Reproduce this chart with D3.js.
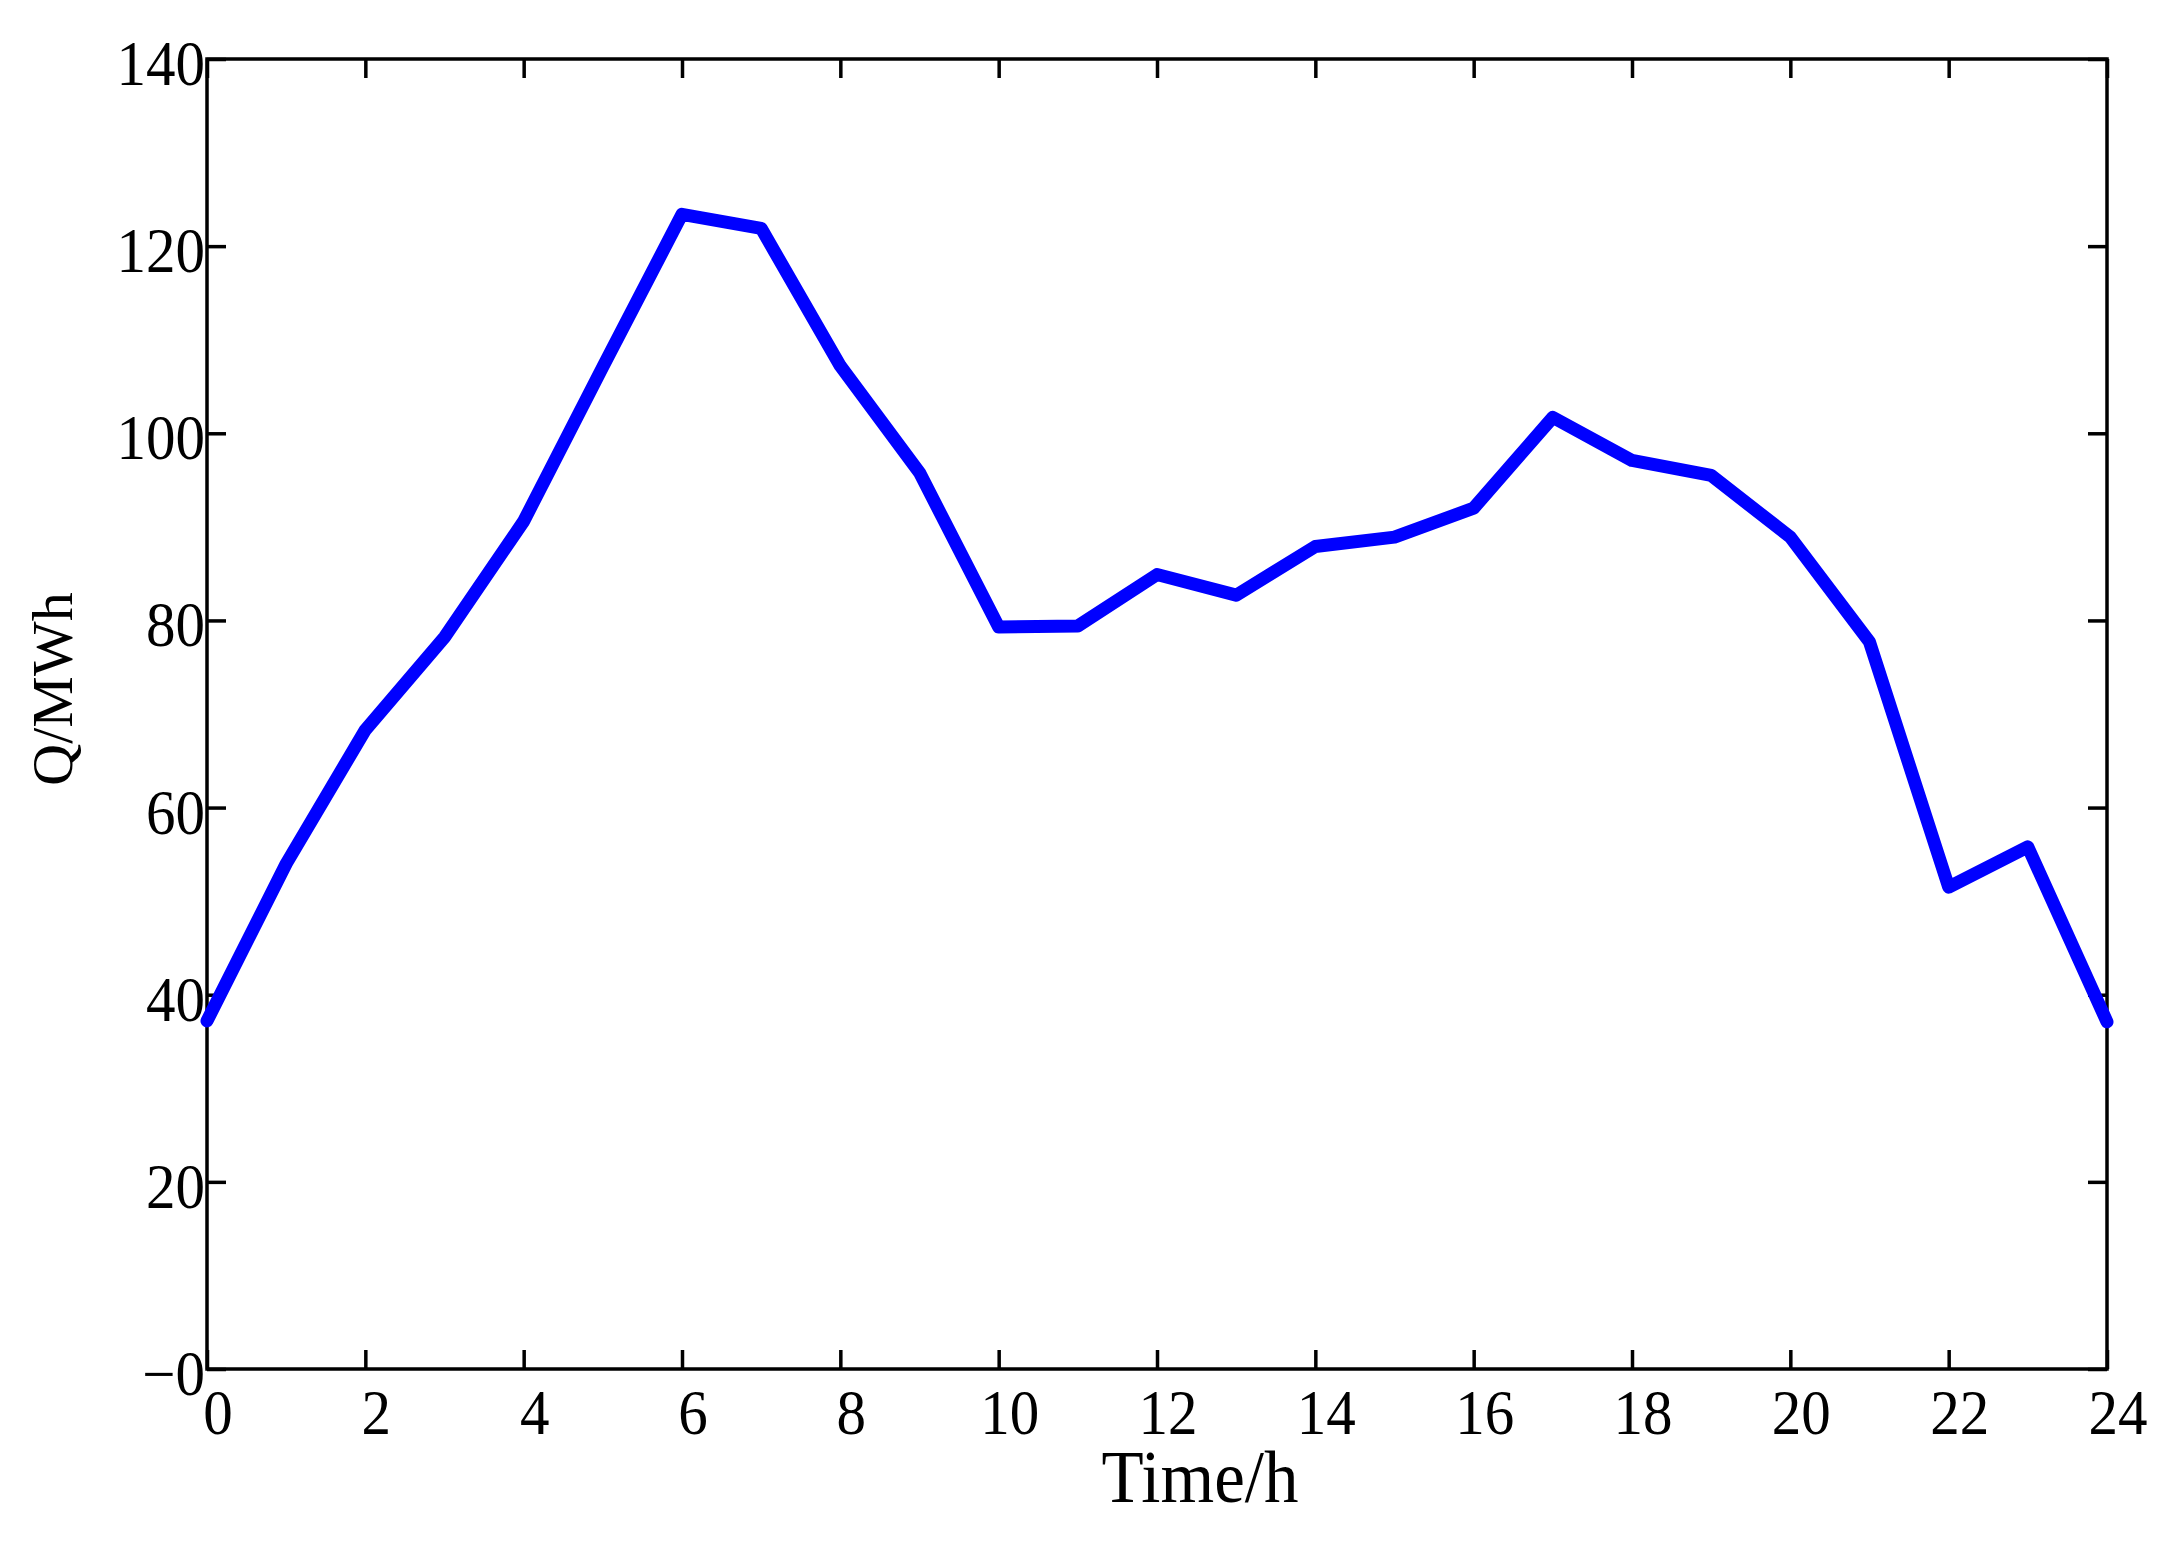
<!DOCTYPE html>
<html>
<head>
<meta charset="utf-8">
<script src="https://cdn.jsdelivr.net/npm/d3@7"></script>
<style>
  html, body { margin: 0; padding: 0; background: #fff; }
  svg { display: block; }
  text { font-family: "Liberation Serif", "Times New Roman", serif; fill: #000; }
</style>
</head>
<body>
<script>
// ---- data ----
const hours = [0,1,2,3,4,5,6,7,8,9,10,11,12,13,14,15,16,17,18,19,20,21,22,23,24];
const load  = [37.2,54.0,68.3,78.2,90.6,107.1,123.4,121.9,107.2,95.8,79.3,79.4,84.9,82.7,87.9,88.9,92.0,101.7,97.1,95.5,88.9,77.7,51.5,55.8,37.1];
const xTicks = [0,2,4,6,8,10,12,14,16,18,20,22,24];
const yTicks = [0,20,40,60,80,100,120,140];
const yTickLabels = ["\u22120","20","40","60","80","100","120","140"];
const xLabel = "Time/h";
const yLabel = "Q/MWh";

(function () {
const W = 2182, H = 1546;
const pL = 207, pR = 2107, pT = 59, pB = 1369;
const tick = 19;
const sy = 1.06;

const svg = d3.select("body").append("svg").attr("width", W).attr("height", H);

const x = d3.scaleLinear().domain([0, 24]).range([pL, pR]);
const y = d3.scaleLinear().domain([0, 140]).range([pB, pT]);

function styleAxis(g) {
  g.select(".domain").remove();
  g.selectAll(".tick line").attr("stroke", "#000").attr("stroke-width", 3.5);
  g.selectAll(".tick text").remove();
}
svg.append("g").attr("transform", `translate(0,${pB})`)
  .call(d3.axisBottom(x).tickValues(xTicks).tickSize(-tick).tickFormat("")).call(styleAxis);
svg.append("g").attr("transform", `translate(0,${pT})`)
  .call(d3.axisTop(x).tickValues(xTicks).tickSize(-tick).tickFormat("")).call(styleAxis);
svg.append("g").attr("transform", `translate(${pL},0)`)
  .call(d3.axisLeft(y).tickValues(yTicks).tickSize(-tick).tickFormat("")).call(styleAxis);
svg.append("g").attr("transform", `translate(${pR},0)`)
  .call(d3.axisRight(y).tickValues(yTicks).tickSize(-tick).tickFormat("")).call(styleAxis);

svg.append("rect")
  .attr("x", pL).attr("y", pT)
  .attr("width", pR - pL).attr("height", pB - pT)
  .attr("fill", "none").attr("stroke", "#000").attr("stroke-width", 3.5);

svg.append("g").selectAll("text").data(xTicks).join("text")
  .attr("transform", d => `translate(${x(d) + 11},${pB + 65}) scale(1,${sy})`)
  .attr("text-anchor", "middle")
  .style("font-size", "59px")
  .text(d => d);

svg.append("g").selectAll("text").data(yTicks).join("text")
  .attr("transform", d => `translate(${pL - 2},${y(d) + 26}) scale(1,${sy})`)
  .attr("text-anchor", "end")
  .style("font-size", "59px")
  .text((d, i) => yTickLabels[i]);

svg.append("text")
  .attr("transform", `translate(1200,1502) scale(1,${sy})`)
  .attr("text-anchor", "middle")
  .style("font-size", "69px")
  .text(xLabel);

svg.append("text")
  .attr("transform", `translate(72,689) rotate(-90)`)
  .attr("text-anchor", "middle")
  .style("font-size", "58px")
  .text(yLabel);

const line = d3.line().x((d, i) => x(hours[i])).y(d => y(d));
svg.append("path")
  .datum(load)
  .attr("d", line)
  .attr("fill", "none")
  .attr("stroke", "#0000ff")
  .attr("stroke-width", 13)
  .attr("stroke-linejoin", "round")
  .attr("stroke-linecap", "round");
})();
</script>
</body>
</html>
